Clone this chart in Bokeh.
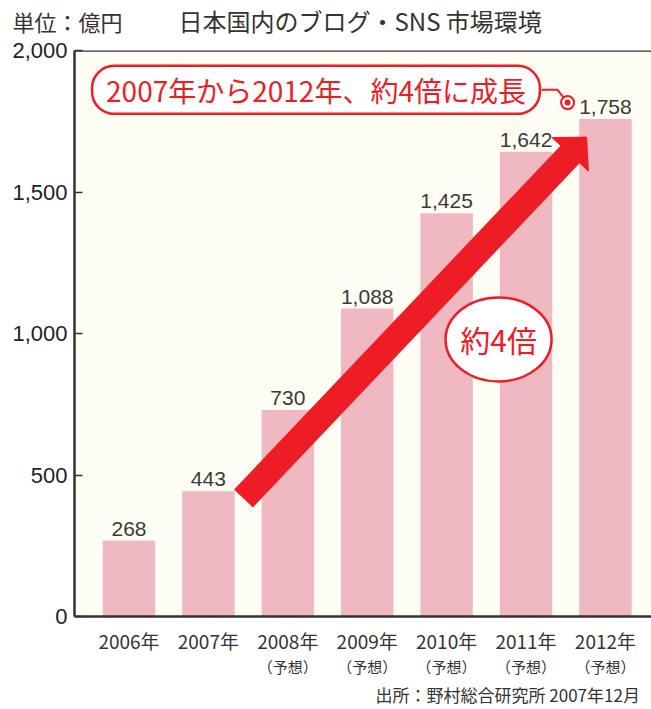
import math
from bokeh.plotting import figure
from bokeh.layouts import column
from bokeh.models import Span, FixedTicker, NumeralTickFormatter, Label, Range1d
from bokeh.core.properties import value
from bokeh.embed import file_html
from bokeh.resources import INLINE

# ---------------- data ----------------
years = ["2006年", "2007年", "2008年", "2009年", "2010年", "2011年", "2012年"]
is_forecast = [False, False, True, True, True, True, True]
market = [268, 443, 730, 1088, 1425, 1642, 1758]
y_ticks = [0, 500, 1000, 1500, 2000]

unit_text = "単位：億円"
title_text = "日本国内のブログ・SNS 市場環境"
source_text = "出所：野村総合研究所 2007年12月"
callout_text = "2007年から2012年、約4倍に成長"
ratio_text = "約4倍"
forecast_text = "（予想）"

# ---------------- style / layout ----------------
RED = "#EE1C25"
BAR = "#F0B8C0"
BG = "#FEFDF4"
INK = "#333333"
JP = "Noto Sans CJK JP"
LAT = "Liberation Sans"

W = 651
H_HEAD, H_MAIN, H_FOOT = 38, 618, 53
BL, BR, BT, BB = 74, 0, 12, 30
X0, X1 = -0.686, 6.580
Y0, Y1 = 0, 2000
FW, FH = W - BL - BR, H_MAIN - BT - BB
PPX = FW / (X1 - X0)
PPY = FH / (Y1 - Y0)

# ---------------- header ----------------
head = figure(width=W, height=H_HEAD, x_range=Range1d(0, W), y_range=Range1d(H_HEAD, 0),
              x_axis_type=None, y_axis_type=None, output_backend="svg",
              toolbar_location=None, min_border_left=0, min_border_right=0,
              min_border_top=0, min_border_bottom=0, frame_align=False)
head.outline_line_color = None
head.grid.visible = False
head.background_fill_color = "white"
head.border_fill_color = "white"
head.text(x=[12], y=[20], text=[unit_text],
          text_align="left", text_baseline="middle",
          text_font=value(JP), text_font_size=value("22px"), text_color=INK)
head.text(x=[178], y=[20], text=[title_text],
          text_align="left", text_baseline="middle",
          text_font=value(JP), text_font_size=value("24px"), text_color=INK)

# ---------------- main chart ----------------
p = figure(width=W, height=H_MAIN, x_range=Range1d(X0, X1), y_range=(Y0, Y1),
           output_backend="svg", toolbar_location=None,
           min_border_left=BL, min_border_right=BR,
           min_border_top=BT, min_border_bottom=BB, frame_align=False)
p.background_fill_color = BG
p.border_fill_color = "white"
p.outline_line_color = None
p.xgrid.visible = False
p.ygrid.visible = False

idx = list(range(len(years)))

p.vbar(x=idx, top=market, width=0.66, bottom=0, fill_color=BAR, line_color=None)

p.yaxis.ticker = FixedTicker(ticks=y_ticks)
p.yaxis.formatter = NumeralTickFormatter(format="0,0")
p.yaxis.axis_line_color = INK
p.yaxis.axis_line_width = 2.5
p.yaxis.major_tick_in = 8
p.yaxis.major_tick_out = 0
p.yaxis.major_tick_line_color = INK
p.yaxis.major_tick_line_width = 1.5
p.yaxis.minor_tick_line_color = None
p.yaxis.major_label_text_font = LAT
p.yaxis.major_label_text_font_size = "22px"
p.yaxis.major_label_text_color = "#222222"
p.yaxis.major_label_standoff = 7

p.xaxis.ticker = FixedTicker(ticks=idx)
p.xaxis.major_label_overrides = {i: y for i, y in zip(idx, years)}
p.xaxis.axis_line_color = INK
p.xaxis.axis_line_width = 2.5
p.xaxis.major_tick_line_color = None
p.xaxis.minor_tick_line_color = None
p.xaxis.major_label_text_font = JP
p.xaxis.major_label_text_font_size = "19px"
p.xaxis.major_label_text_color = INK
p.xaxis.major_label_standoff = 4

p.add_layout(Span(location=Y1, dimension="width", line_color=INK, line_width=2.5))

# arrow annotation (start / tip in data units)
A_START = (1.442, 417)
A_TIP = (5.762, 1694)
SHAFT_W, HEAD_LEN, HEAD_HALF = 26, 24, 25
sx, sy = A_START[0] * PPX, A_START[1] * PPY
tx, ty = A_TIP[0] * PPX, A_TIP[1] * PPY
L = math.hypot(tx - sx, ty - sy)
ux, uy = (tx - sx) / L, (ty - sy) / L
nx, ny = -uy, ux
bx, by = tx - HEAD_LEN * ux, ty - HEAD_LEN * uy
p.segment(x0=[sx / PPX], y0=[sy / PPY], x1=[(bx + ux) / PPX], y1=[(by + uy) / PPY],
          line_color=RED, line_width=SHAFT_W, line_cap="butt")
head_x = [tx / PPX, (bx + HEAD_HALF * nx) / PPX, (bx - HEAD_HALF * nx) / PPX]
head_y = [ty / PPY, (by + HEAD_HALF * ny) / PPY, (by - HEAD_HALF * ny) / PPY]
p.patch(head_x, head_y, fill_color=RED, line_color=RED, line_width=1)

# value labels
p.text(x=idx, y=market, text=[f"{v:,}" for v in market],
       text_align="center", text_baseline="bottom", y_offset=-5,
       text_font=value(LAT), text_font_size=value("21px"), text_color="#3A3A3A")

# ratio ellipse
E_POS = (4.654, 979)
p.ellipse(x=[E_POS[0]], y=[E_POS[1]], width=106, height=84,
          width_units="screen", height_units="screen",
          fill_color="white", line_color=RED, line_width=2.5)
p.text(x=[E_POS[0]], y=[E_POS[1]], text=[ratio_text], text_align="center",
       text_baseline="middle", text_font=value(JP), text_font_size=value("30px"),
       text_color=RED)

# callout connector
C_PTS_X = [5.195, 5.397, 5.523]
C_PTS_Y = [1861, 1861, 1816]
p.line(C_PTS_X, C_PTS_Y, line_color=RED, line_width=2)
p.scatter([C_PTS_X[-1]], [C_PTS_Y[-1]], size=13, marker="circle",
          fill_color=BG, line_color=RED, line_width=2)
p.scatter([C_PTS_X[-1]], [C_PTS_Y[-1]], size=6, marker="circle",
          fill_color=RED, line_color=None)

p.add_layout(Label(x=2.355, y=1861, text=callout_text, text_align="center",
                   text_baseline="middle", text_font=JP, text_font_size="28px",
                   text_color=RED, background_fill_color="white",
                   border_line_color=RED, border_line_width=2.5,
                   border_radius=22, padding=(14, 4)))

# ---------------- footer ----------------
foot = figure(width=W, height=H_FOOT, x_range=p.x_range, y_range=Range1d(H_FOOT, 0),
              x_axis_type=None, y_axis_type=None, output_backend="svg",
              toolbar_location=None, min_border_left=BL, min_border_right=BR,
              min_border_top=0, min_border_bottom=0, frame_align=False)
foot.outline_line_color = None
foot.grid.visible = False
foot.background_fill_color = "white"
foot.border_fill_color = "white"
fx = [i for i, f in zip(idx, is_forecast) if f]
foot.text(x=fx, y=[10] * len(fx), text=[forecast_text] * len(fx),
          text_align="center", text_baseline="middle",
          text_font=value(JP), text_font_size=value("15px"), text_color=INK)
foot.text(x=[(375 - BL) / PPX + X0], y=[38], text=[source_text],
          text_align="left", text_baseline="middle",
          text_font=value(JP), text_font_size=value("17px"), text_color=INK)

layout = column(head, p, foot, spacing=0)
open("out.html", "w").write(file_html(layout, INLINE))
